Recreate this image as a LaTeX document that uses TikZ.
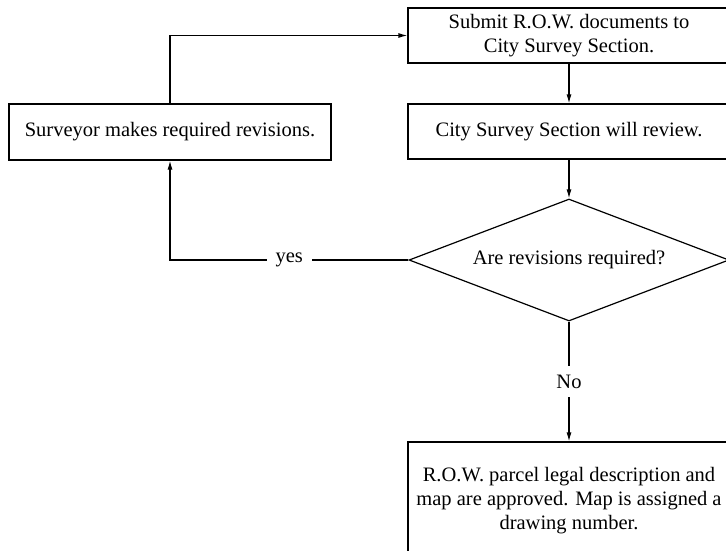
\documentclass[tikz,border=0pt]{standalone}
\usepackage{fontspec}
\setmainfont{Liberation Serif}
\usetikzlibrary{shapes.geometric,arrows.meta}
\begin{document}
\begin{tikzpicture}[x=1pt,y=-1pt,
  font=\fontsize{20.5}{24}\selectfont,
  box/.style={draw,line width=1.2pt,rectangle,minimum width=322pt,minimum height=55pt,inner sep=0pt,align=center},
  decision/.style={draw,line width=1.2pt,diamond,aspect=2.623,minimum width=320pt,minimum height=122pt,inner sep=0pt},
  conn/.style={line width=1.2pt,-{Latex[length=9pt,width=5pt]}},
  lbl/.style={fill=white,inner sep=9pt}]
\useasboundingbox (0,0) rectangle (726,550);
\clip (0,0) rectangle (726,550);
\fill[white] (0,0) rectangle (726,550);
\node[box] (top) at (569,35.5) {Submit R.O.W. documents to\\City Survey Section.};
\node[box] (review) at (569,131.5) {City Survey Section will review.};
\node[box,minimum height=56pt] (surv) at (170,132) {Surveyor makes required revisions.};
\node[decision] (dia) at (569,260) {Are revisions required?};
\node[box,minimum height=118pt] (bot) at (569,501) {R.O.W. parcel legal description and\\map are approved. Map is assigned a\\drawing number.};
\draw[conn] (surv.north) |- (top.west);
\draw[conn] (top.south) -- (review.north);
\draw[conn] (review.south) -- (dia.north);
\draw[conn] (dia.west) -| node[lbl,pos=0.25] (yes) {yes} (surv.south);
\draw[conn] (dia.south) -- node[lbl] (no) {No} (bot.north);
\end{tikzpicture}
\end{document}
